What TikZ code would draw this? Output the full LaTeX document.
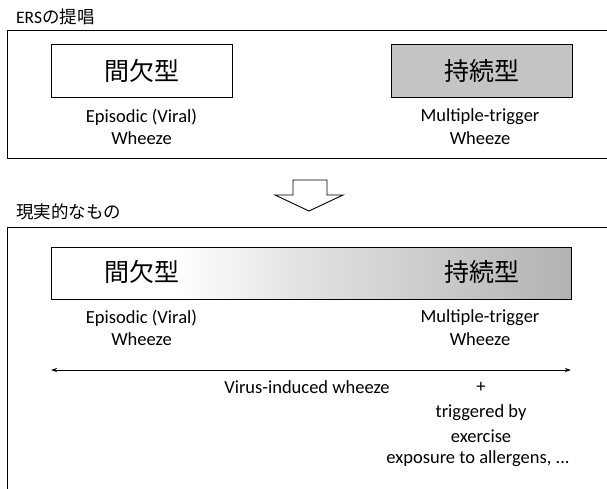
\documentclass[tikz,border=0pt]{standalone}
\usepackage{fontspec}
\setmainfont{Carlito}
\newfontfamily\jp{Noto Sans CJK JP}
\usetikzlibrary{arrows.meta}
\pgfdeclarehorizontalshading{bargrad}{100bp}{color(0bp)=(white); color(25bp)=(white); color(37bp)=(white); color(50bp)=(black!12); color(75bp)=(black!30); color(100bp)=(black!30)}
\tikzset{
  lbl/.style={font=\fontsize{18.5}{22}\selectfont, inner sep=0pt, align=center},
  jlbl/.style={font=\jp\fontsize{17.5}{21}\selectfont, inner sep=0pt, anchor=west},
  typebox/.style={draw, line width=0.9pt, minimum width=181pt, minimum height=53pt, inner sep=0pt, font=\jp\fontsize{25}{28}\selectfont},
  frame/.style={draw, line width=1pt},
}
\begin{document}
\begin{tikzpicture}[x=1pt,y=-1pt]
\useasboundingbox (0,0) rectangle (607,488);
% top section
\node[jlbl] (t1) at (16,17) {{\fontspec{Carlito}ERS}の提唱};
\draw[frame] (7,30) rectangle (612,158);
\node[typebox] (l1) at (141.5,70.5) {間欠型};
\node[typebox, fill=black!23] (r1) at (482,70.5) {持続型};
\node[lbl] (l1a) at (141.5,117) {Episodic (Viral)};
\node[lbl] (l1b) at (141.5,138) {Wheeze};
\node[lbl] (r1a) at (480,117) {Multiple-trigger};
\node[lbl] (r1b) at (480,138) {Wheeze};
% down arrow
\coordinate (ar) at (309,180);
\draw[line width=0.9pt, fill=white] (293,180) -- (327,180) -- (327,195) -- (343,195) -- (309,211) -- (275,195) -- (293,195) -- cycle;
% bottom section
\node[jlbl] (t2) at (16,212) {現実的なもの};
\draw[frame] (7,227) rectangle (612,500);
\node[draw, line width=0.9pt, minimum width=520pt, minimum height=52pt, inner sep=0pt, shading=bargrad] (bar) at (311,273) {};
\node[font=\jp\fontsize{25}{28}\selectfont, inner sep=0pt] (l2) at (141.5,272) {間欠型};
\node[font=\jp\fontsize{25}{28}\selectfont, inner sep=0pt] (r2) at (482,272) {持続型};
\node[lbl] (l2a) at (141.5,318) {Episodic (Viral)};
\node[lbl] (l2b) at (141.5,339) {Wheeze};
\node[lbl] (r2a) at (480,318) {Multiple-trigger};
\node[lbl] (r2b) at (480,339) {Wheeze};
\coordinate (al) at (51,370);
\coordinate (arr) at (571,370);
\draw[line width=0.9pt, {Stealth[length=6pt,width=4pt]}-{Stealth[length=6pt,width=4pt]}] (al) -- (arr);
\node[lbl] (v) at (307,387) {Virus-induced wheeze};
\node[lbl] (p) at (481,387) {+};
\node[lbl] (tb) at (481,413) {triggered by};
\node[lbl] (ex) at (481,436) {exercise};
\node[lbl] (ea) at (478,459) {exposure to allergens, ...};
\end{tikzpicture}
\end{document}
